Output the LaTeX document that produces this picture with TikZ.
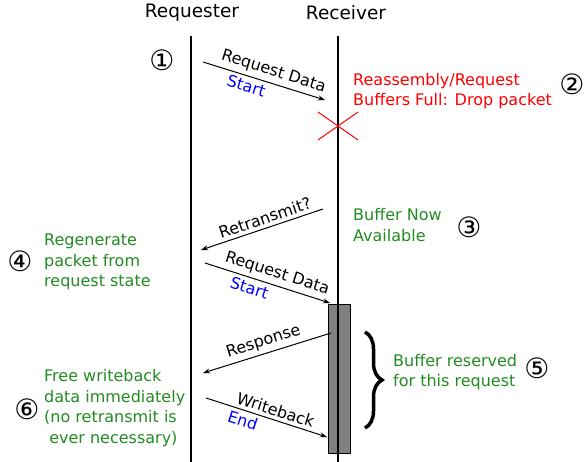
\documentclass[tikz,border=0pt]{standalone}
\usepackage{fontspec}
\setmainfont{DejaVu Sans}
\usetikzlibrary{arrows.meta,decorations.pathreplacing,positioning}

\definecolor{notegreen}{RGB}{34,139,34}

\begin{document}
\begin{tikzpicture}[x=1pt, y=-1pt,
    msg/.style = {-{Stealth[length=7pt,width=5pt]}, line width=1pt},
    lbl/.style = {font=\fontsize{16}{18}\selectfont, sloped, inner sep=3.5pt},
    note/.style = {font=\fontsize{16}{20.5}\selectfont, align=left, anchor=west, inner sep=0pt},
    num/.style = {font=\fontsize{28}{28}\selectfont, inner sep=0pt},
    head/.style = {font=\fontsize{18.5}{18.5}\selectfont, inner sep=0pt}]
  \useasboundingbox (0,0) rectangle (584,462);

  % lifelines
  \node[head] (Req) at (192,13) {Requester};
  \node[head] (Rcv) at (346,13) {Receiver};
  \coordinate (reqtop) at (191,36);
  \coordinate (reqbot) at (191,462);
  \coordinate (rcvtop) at (338,36);
  \coordinate (rcvbot) at (338,462);
  \node[draw, fill=gray, line width=1pt, minimum width=22pt, minimum height=148pt, inner sep=0pt] (buf) at (339,379) {};
  \draw[line width=1.6pt] (reqtop) -- (reqbot);
  \draw[line width=2.4pt] (rcvtop) -- (rcvbot);

  % first request, dropped
  \coordinate (m1a) at (203,62);
  \coordinate (m1b) at (325,100);
  \draw[msg] (m1a) to node[lbl, above, pos=0.55] {Request Data}
                      node[lbl, below, pos=0.38, text=blue] {Start} (m1b);
  \coordinate (drop) at (338,126);
  \draw[red, line width=1pt] ([shift={(-20,-14)}]drop) -- ([shift={(20,14)}]drop)
                             ([shift={(-20,14)}]drop) -- ([shift={(20,-14)}]drop);
  \node[note, text=red] (full) at (353,91) {Reassembly/Request\\Buffers Full: Drop packet};

  % retransmit
  \coordinate (m2a) at (323,209);
  \coordinate (m2b) at (201,250);
  \draw[msg] (m2a) to node[lbl, above, pos=0.45] {Retransmit?} (m2b);
  \node[note, text=notegreen] (avail) at (353,225) {Buffer Now\\Available};

  \node[note, text=notegreen] (regen) at (44,262) {Regenerate\\packet from\\request state};

  % second request
  \coordinate (m3a) at (205,263);
  \coordinate (m3b) at (330,303);
  \draw[msg] (m3a) to node[lbl, above, pos=0.55] {Request Data}
                      node[lbl, below, pos=0.38, text=blue] {Start} (m3b);

  % response and writeback
  \coordinate (m4a) at (331,333);
  \coordinate (m4b) at (203,373);
  \draw[msg] (m4a) to node[lbl, above, pos=0.5] {Response} (m4b);
  \coordinate (m5a) at (206,398);
  \coordinate (m5b) at (327,437);
  \draw[msg] (m5a) to node[lbl, above, pos=0.55] {Writeback}
                      node[lbl, below, pos=0.33, text=blue] {End} (m5b);

  \coordinate (bra) at (365,332);
  \coordinate (brb) at (365,428);
  \draw[line width=3.5pt, decorate, decoration={brace, amplitude=17pt}] (bra) -- (brb);
  \node[note, text=notegreen] (resv) at (393,372) {Buffer reserved\\for this request};

  \node[note, text=notegreen] (free) at (44,408) {Free writeback\\data immediately\\(no retransmit is\\\ ever necessary)};

  % step numbers
  \node[num] (n1) at (162,60) {①};
  \node[num] (n2) at (572,84) {②};
  \node[num] (n3) at (469,227) {③};
  \node[num] (n4) at (20,261) {④};
  \node[num] (n5) at (537,368) {⑤};
  \node[num] (n6) at (27,409) {⑥};
\end{tikzpicture}
\end{document}
